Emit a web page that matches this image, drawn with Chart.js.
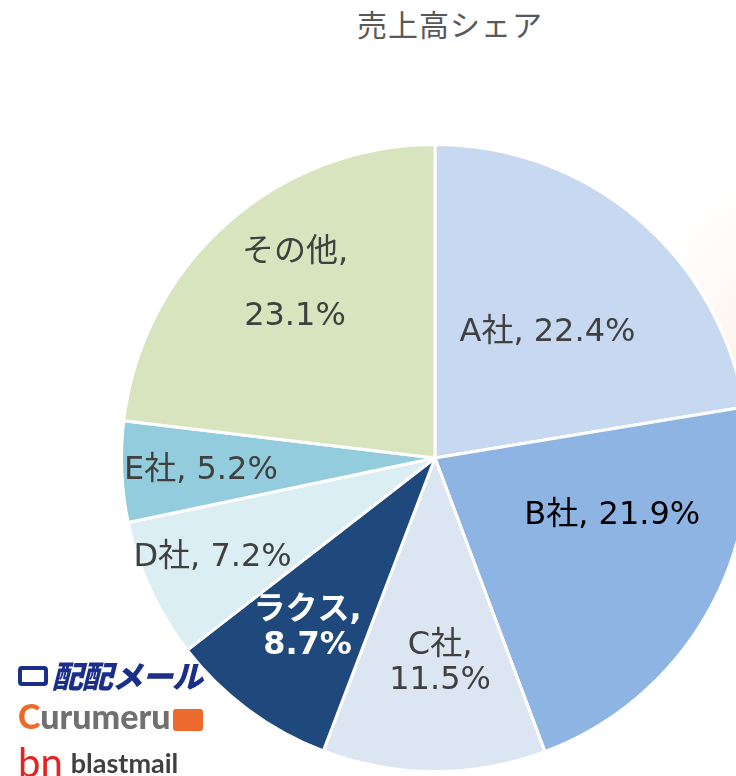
<!DOCTYPE html>
<html>
<head>
<meta charset="utf-8">
<script src="https://cdn.jsdelivr.net/npm/chart.js@4"></script>
<style>
  html, body { margin: 0; padding: 0; background: #fff; }
  body { width: 736px; height: 776px; overflow: hidden; position: relative; font-family: "Noto Sans CJK JP", "Noto Sans", sans-serif; }
  #glow { position: absolute; left: 640px; top: 180px; width: 220px; height: 380px;
          background: radial-gradient(ellipse at 70% 55%, rgba(252,222,200,0.55) 0%, rgba(252,230,215,0.25) 45%, rgba(255,255,255,0) 75%); }
  #title { position: absolute; top: 1px; left: 0; width: 900px; text-align: center; font-size: 30px; color: #595959; letter-spacing: 1px; }
  #wrap { position: absolute; left: 0; top: 143px; width: 870px; height: 630px; }
  .logo { position: absolute; left: 18px; white-space: nowrap; }
  #haihai { top: 652px; font-size: 31px; font-weight: 900; font-style: italic; color: #1b2f8a; letter-spacing: -1px; }
  #haihai .env { display: inline-block; width: 30px; height: 20px; border: 4px solid #1b2f8a; border-radius: 4px; margin-right: 4px; vertical-align: 2px; box-sizing: border-box; }
  #curumeru { top: 695px; font-size: 34px; font-weight: 900; color: #707070; font-family: "Lato", "Noto Sans", sans-serif; }
  #curumeru .c { color: #ec6a2c; }
  #curumeru .env { display: inline-block; width: 30px; height: 22px; background: #ec6a2c; border-radius: 3px; vertical-align: -2px; margin-left: 2px; }
  #blast { top: 738px; font-size: 27px; font-weight: 700; color: #404040; font-family: "Lato", "Noto Sans", sans-serif; }
  #blast .bn { font-size: 40px; font-weight: 400; color: #e52420; margin-right: 8px; vertical-align: -4px; }
</style>
</head>
<body>
<div id="glow"></div>
<div id="title">売上高シェア</div>
<div id="wrap"><canvas id="pie" width="870" height="630"></canvas></div>
<div class="logo" id="haihai"><span class="env"></span>配配メール</div>
<div class="logo" id="curumeru"><span class="c">C</span>urumeru<span class="env"></span></div>
<div class="logo" id="blast"><span class="bn">bn</span>blastmail</div>
<script>
// 売上高シェア (%)
const companies = ['A社', 'B社', 'C社', 'ラクス', 'D社', 'E社', 'その他'];
const shares = [22.4, 21.9, 11.5, 8.7, 7.2, 5.2, 23.1];
const sliceColors = ['#c6d9f1', '#8eb4e3', '#dce6f2', '#1f497d', '#dbeef4', '#93cddd', '#d7e4bd'];

// ラベルの配置（Excelの自動配置に合わせる）
const labelFrac = [0.537, 0.595, 0.655, 0.678, 0.777, 0.748, 0.71];
const labelTurn = [1.6, -11.9, -1.6, 0.3, 0.8, -0.7, 2.6];
const labelSplit = [false, false, true, true, false, false, true];
const labelColor = ['#404040', '#000000', '#404040', '#ffffff', '#404040', '#404040', '#404040'];
const labelBold = [false, false, false, true, false, false, false];
const labelGap = [35, 35, 35, 35, 35, 35, 64];

const sliceLabels = {
  id: 'sliceLabels',
  afterDatasetsDraw(chart) {
    const ctx = chart.ctx;
    const arcs = chart.getDatasetMeta(0).data;
    arcs.forEach((arc, i) => {
      const p = arc.getProps(['x', 'y', 'startAngle', 'endAngle', 'outerRadius'], true);
      const a = (p.startAngle + p.endAngle) / 2 + labelTurn[i] * Math.PI / 180;
      const r = p.outerRadius * labelFrac[i];
      const cx = p.x + r * Math.cos(a);
      const cy = p.y + r * Math.sin(a);
      const val = shares[i].toFixed(1) + '%';
      const lines = labelSplit[i] ? [companies[i] + ',', val] : [companies[i] + ', ' + val];
      ctx.save();
      ctx.font = (labelBold[i] ? 'bold ' : '') + '32px "DejaVu Sans", "Noto Sans CJK JP", sans-serif';
      ctx.fillStyle = labelColor[i];
      ctx.textAlign = 'center';
      ctx.textBaseline = 'middle';
      const top = cy - (lines.length - 1) * labelGap[i] / 2;
      lines.forEach((t, k) => ctx.fillText(t, cx, top + k * labelGap[i]));
      ctx.restore();
    });
  }
};

new Chart(document.getElementById('pie'), {
  type: 'pie',
  data: {
    labels: companies,
    datasets: [{
      data: shares,
      backgroundColor: sliceColors,
      borderColor: '#ffffff',
      borderWidth: 3
    }]
  },
  options: {
    responsive: false,
    animation: false,
    layout: { padding: 0 },
    plugins: {
      legend: { display: false },
      tooltip: { enabled: false }
    }
  },
  plugins: [sliceLabels]
});
</script>
</body>
</html>
